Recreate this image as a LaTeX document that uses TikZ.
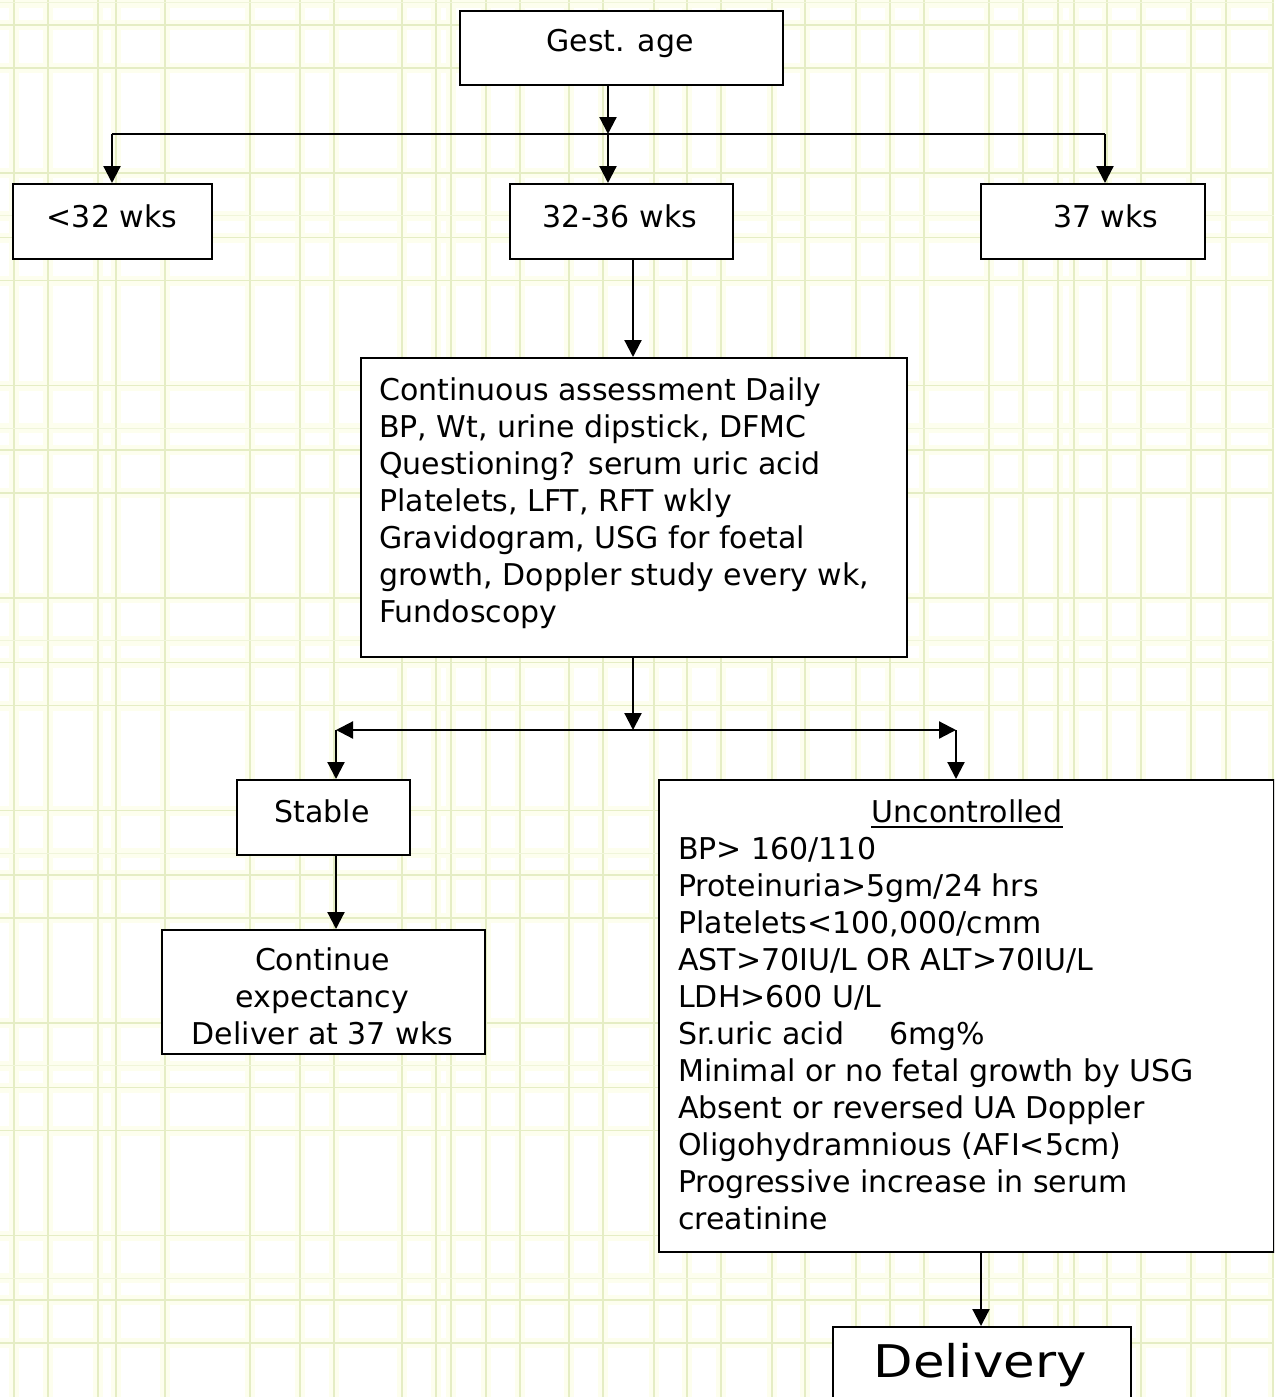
\documentclass[tikz,border=0pt]{standalone}
\usepackage{fontspec}
\usepackage{graphicx}
\setmainfont{DejaVu Sans}
\usetikzlibrary{arrows.meta}

\definecolor{gridc}{RGB}{229,237,196}
\definecolor{gridfaint}{RGB}{240,245,218}
\definecolor{halo}{RGB}{253,254,238}

\begin{document}
\begin{tikzpicture}[x=1pt,y=-1pt,
  box/.style={draw=black, line width=2.4pt, fill=white, rectangle, inner sep=0pt, anchor=north west},
  lbl/.style={inner sep=0pt, font=\fontsize{30}{37}\selectfont},
  link/.style={line width=2.2pt, -{Triangle[length=17pt,width=17pt]}},
  twoway/.style={line width=2.2pt, {Triangle[length=17pt,width=17pt]}-{Triangle[length=17pt,width=17pt]}},
  plain/.style={line width=2.2pt},
  gridhalo/.style={line width=10pt, color=halo},
  gridline/.style={line width=1.2pt, color=gridc},
  gridlight/.style={line width=1pt, color=gridfaint}]

\useasboundingbox (0,0) rectangle (1274,1397);
\clip (0,0) rectangle (1274,1397);
\fill[white] (0,0) rectangle (1274,1397);

% ---- plaid background ----
\def\vlines{14,48,98,116,165,250,300,334,402,436,451,486,520,569,603,654,687,721,772,805,856,890,924,989,1023,1058,1074,1107,1141,1191,1226,1273}
\foreach \x in \vlines {\draw[gridhalo] (\x,0) -- (\x,1397);}
\foreach \p in {0,...,6}{
  \foreach \o in {0,22,65,170}{
    \pgfmathsetmacro\yy{3+212.5*\p+\o}
    \draw[gridhalo] (0,\yy) -- (1274,\yy);
  }
}
\foreach \x in \vlines {\draw[gridline] (\x,0) -- (\x,1397);}
\foreach \p in {0,...,6}{
  \pgfmathsetmacro\ya{3+212.5*\p}
  \draw[gridlight] (0,\ya) -- (1274,\ya);
  \foreach \o in {22,65,170}{
    \pgfmathsetmacro\yy{3+212.5*\p+\o}
    \draw[gridline] (0,\yy) -- (1274,\yy);
  }
}

% ---- boxes ----
\node[box, minimum width=323pt, minimum height=74pt] (gest) at (459,10) {};
\node[box, minimum width=199pt, minimum height=75pt] (lt) at (12,183) {};
\node[box, minimum width=223pt, minimum height=75pt] (mid) at (509,183) {};
\node[box, minimum width=224pt, minimum height=75pt] (rt) at (980,183) {};
\node[box, minimum width=546pt, minimum height=299pt] (assess) at (360,357) {};
\node[box, minimum width=173pt, minimum height=75pt] (stable) at (236,779) {};
\node[box, minimum width=323pt, minimum height=124pt] (cont) at (161,929) {};
\node[box, minimum width=615pt, minimum height=472pt] (unc) at (658,779) {};
\node[box, minimum width=298pt, minimum height=110pt] (deliv) at (832,1326) {};

% ---- labels ----
\node[lbl, anchor=base] (tg) at (620,52) {Gest. age};
\node[lbl, anchor=base] (tl) at (112,227) {<32 wks};
\node[lbl, anchor=base] (tm) at (620,227) {32-36 wks};
\node[lbl, anchor=base west] (tr) at (1053,227) {37 wks};

\foreach \t [count=\i from 0] in {
  {Continuous assessment Daily},
  {BP, Wt, urine dipstick, DFMC},
  {Questioning? serum uric acid},
  {Platelets, LFT, RFT wkly},
  {Gravidogram, USG for foetal},
  {growth, Doppler study every wk,},
  {Fundoscopy}}
  {\node[lbl, anchor=base west] (a\i) at (379,400+37*\i) {\t};}

\node[lbl, anchor=base] (ts) at (322,822) {Stable};
\foreach \t [count=\i from 0] in {{Continue},{expectancy},{Deliver at 37 wks}}
  {\node[lbl, anchor=base] (c\i) at (322.5,970+37*\i) {\t};}

\node[lbl, anchor=base] (tu) at (967,822) {Uncontrolled};
\draw[line width=2pt] ([yshift=-5pt]tu.base west) -- ([yshift=-5pt]tu.base east);
\foreach \t [count=\i from 0] in {
  {BP> 160/110},
  {Proteinuria>5gm/24 hrs},
  {Platelets<100,000/cmm},
  {AST>70IU/L OR ALT>70IU/L},
  {LDH>600 U/L},
  {\makebox[211pt][l]{Sr.uric acid}6mg\%},
  {Minimal or no fetal growth by USG},
  {Absent or reversed UA Doppler},
  {Oligohydramnious (AFI<5cm)},
  {Progressive increase in serum},
  {creatinine}}
  {\node[lbl, anchor=base west] (u\i) at (678,859+37*\i) {\t};}

\node[inner sep=0pt, anchor=base, font=\fontsize{45}{54}\selectfont] (td) at (980,1377) {\scalebox{1.14}[1]{Delivery}};

% ---- connectors ----
\coordinate (j1) at (608,134);
\coordinate (jl) at (112,134);
\coordinate (jr) at (1105,134);
\draw[link] (j1 |- gest.south) -- (j1);
\draw[plain] (jl) -- (jr);
\draw[link] (jl) -- (jl |- lt.north);
\draw[link] (j1) -- (j1 |- mid.north);
\draw[link] (jr) -- (jr |- rt.north);

\coordinate (k1) at (633,0);
\draw[link] (k1 |- mid.south) -- (k1 |- assess.north);

\coordinate (j2) at (633,730);
\coordinate (jl2) at (336,730);
\coordinate (jr2) at (956,730);
\draw[link] (j2 |- assess.south) -- (j2);
\draw[twoway] (jl2) -- (jr2);
\draw[link] (jl2) -- (jl2 |- stable.north);
\draw[link] (jr2) -- (jr2 |- unc.north);
\draw[link] (jl2 |- stable.south) -- (jl2 |- cont.north);

\coordinate (k3) at (981,0);
\draw[link] (k3 |- unc.south) -- (k3 |- deliv.north);

\end{tikzpicture}
\end{document}
